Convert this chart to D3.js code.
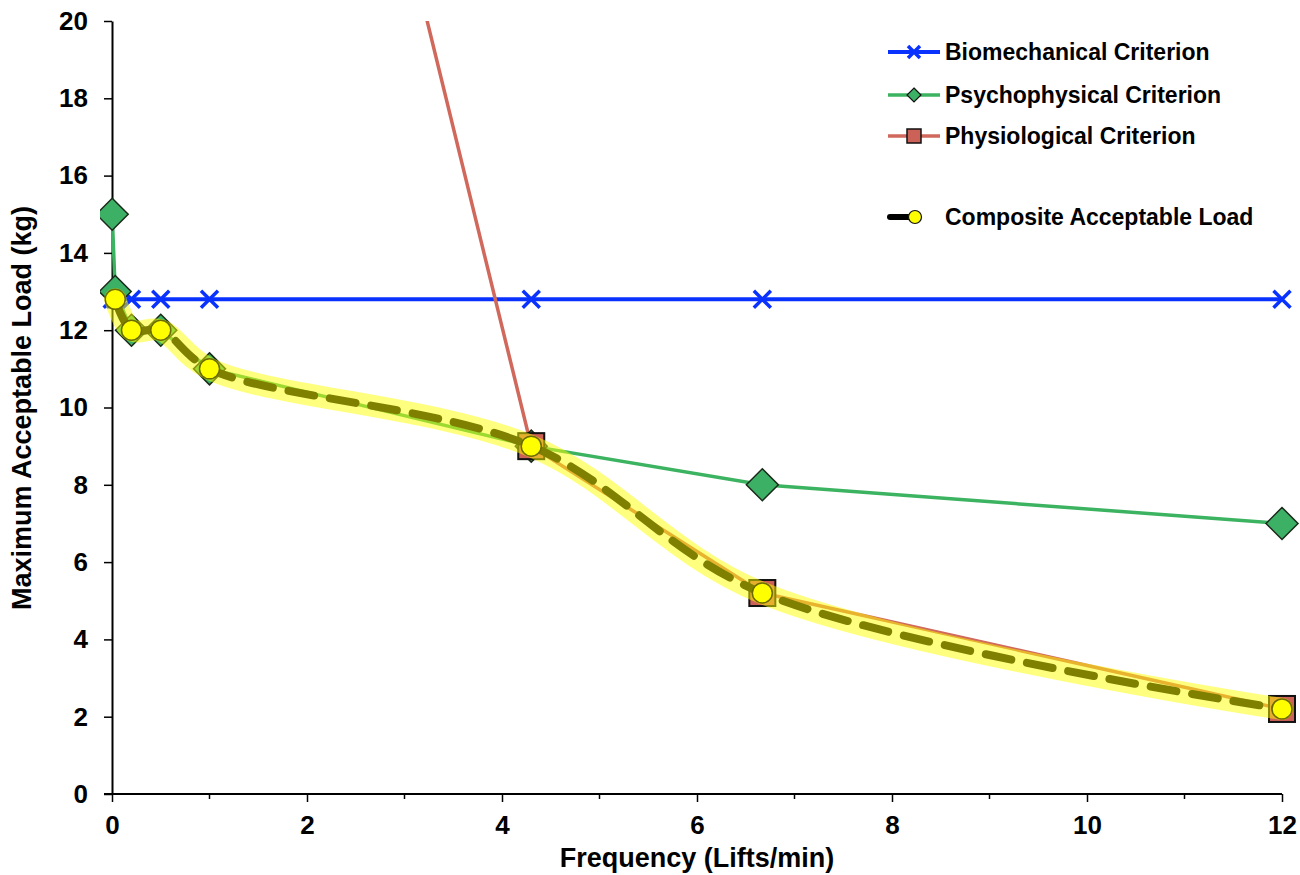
<!DOCTYPE html>
<html><head><meta charset="utf-8">
<script src="https://cdn.jsdelivr.net/npm/d3@7"></script>
<style>
html,body{margin:0;padding:0;background:#fff;}
svg{display:block;font-family:"Liberation Sans",Arial,sans-serif;font-weight:bold;}
</style></head>
<body><svg id="c" width="1300" height="875"></svg>
<script>
// Data
const freqs = [0.002, 0.033, 0.2, 0.5, 1, 4.3, 6.67, 12];
const biomechanical = [12.8, 12.8, 12.8, 12.8, 12.8, 12.8, 12.8, 12.8];
const psychophysical = [15, 13, 12, 12, 11, 9, 8, 7];
const physioFreqs = [1, 4.3, 6.67, 12];
const physiological = [43, 9, 5.2, 2.2];
const compFreqs = [0.033, 0.2, 0.5, 1, 4.3, 6.67, 12];
const composite = [12.8, 12, 12, 11, 9, 5.2, 2.2];
const xTicks = [0, 2, 4, 6, 8, 10, 12];
const xMinor = [1, 3, 5, 7, 9, 11];
const yTicks = [0, 2, 4, 6, 8, 10, 12, 14, 16, 18, 20];
const legendLabels = ["Biomechanical Criterion", "Psychophysical Criterion", "Physiological Criterion", "Composite Acceptable Load"];

const svg = d3.select("#c");
const x = d3.scaleLinear().domain([0, 12]).range([112, 1282]);
const y = d3.scaleLinear().domain([0, 20]).range([794, 21]);

const pts = (xs, ys) => xs.map((v, i) => [v, ys[i]]);

svg.append("defs").append("clipPath").attr("id", "clip")
  .append("rect").attr("x", 100).attr("y", 21).attr("width", 1200).attr("height", 790);

// Axes
const xAxis = svg.append("g").attr("transform", `translate(0,${y(0)})`)
  .call(d3.axisBottom(x).tickValues(xTicks).tickFormat(d3.format("d")).tickSize(8).tickSizeOuter(0).tickPadding(14));
xAxis.select(".domain").remove();
xAxis.append("line").attr("x1", 104).attr("x2", x(12)).attr("stroke", "#000").attr("stroke-width", 2);
xAxis.selectAll(".tick line").attr("stroke-width", 1.5);
xAxis.selectAll(".tick text").attr("font-size", 26).attr("font-weight", "bold").attr("fill", "#000").attr("font-family", "Liberation Sans, Arial");
xAxis.selectAll(".minor").data(xMinor).enter().append("line")
  .attr("x1", d => x(d)).attr("x2", d => x(d)).attr("y1", 0).attr("y2", 5).attr("stroke", "#000").attr("stroke-width", 1.5);

const yAxis = svg.append("g").attr("transform", `translate(${x(0)},0)`)
  .call(d3.axisLeft(y).tickValues(yTicks).tickFormat(d3.format("d")).tickSize(8).tickSizeOuter(0).tickPadding(16));
yAxis.select(".domain").attr("stroke-width", 2);
yAxis.selectAll(".tick line").attr("stroke-width", 1.5);
yAxis.selectAll(".tick text").attr("font-size", 26).attr("font-weight", "bold").attr("fill", "#000").attr("font-family", "Liberation Sans, Arial");

svg.append("text").attr("x", 697).attr("y", 867).attr("text-anchor", "middle").attr("font-size", 27).text("Frequency (Lifts/min)");
svg.append("text").attr("transform", "translate(31,408) rotate(-90)").attr("text-anchor", "middle").attr("font-size", 27).text("Maximum Acceptable Load (kg)");

const plot = svg.append("g").attr("clip-path", "url(#clip)");
const straight = d3.line().x(d => x(d[0])).y(d => y(d[1]));
const smooth = d3.line().x(d => x(d[0])).y(d => y(d[1])).curve(d3.curveCatmullRom.alpha(0.5));

// Series lines
const cBlue = "#0a32ff", cGreen = "#3cb360", cRed = "#d0685c";
plot.append("path").attr("d", straight(pts(freqs, biomechanical))).attr("fill", "none").attr("stroke", cBlue).attr("stroke-width", 4);
plot.append("path").attr("d", straight(pts(freqs, psychophysical))).attr("fill", "none").attr("stroke", cGreen).attr("stroke-width", 3.5);
plot.append("path").attr("d", straight(pts(physioFreqs, physiological))).attr("fill", "none").attr("stroke", cRed).attr("stroke-width", 3.5);

// Markers: X
const xm = plot.append("g");
pts(freqs, biomechanical).forEach(p => {
  const cx = x(p[0]), cy = y(p[1]), s = 8.5;
  xm.append("path").attr("d", `M${cx-s},${cy-s}L${cx+s},${cy+s}M${cx-s},${cy+s}L${cx+s},${cy-s}`)
    .attr("stroke", cBlue).attr("stroke-width", 3.5);
});
// Diamonds
pts(freqs, psychophysical).forEach(p => {
  const cx = x(p[0]), cy = y(p[1]), s = 16;
  plot.append("path").attr("d", `M${cx},${cy-s}L${cx+s},${cy}L${cx},${cy+s}L${cx-s},${cy}Z`)
    .attr("fill", "#3cb065").attr("stroke", "#1a2a1a").attr("stroke-width", 1.5);
});
// Squares
pts(physioFreqs, physiological).forEach(p => {
  const cx = x(p[0]), cy = y(p[1]), s = 13;
  plot.append("rect").attr("x", cx - s).attr("y", cy - s).attr("width", 2*s).attr("height", 2*s)
    .attr("fill", "#cc6158").attr("stroke", "#111").attr("stroke-width", 2);
});

// Composite
const cp = pts(compFreqs, composite);
plot.append("path").attr("d", smooth(cp)).attr("fill", "none").attr("stroke", "#000").attr("stroke-width", 8)
  .attr("stroke-dasharray", "26,16").attr("stroke-linecap", "round");
plot.append("path").attr("d", smooth(cp)).attr("fill", "none").attr("stroke", "#ffff00").attr("stroke-opacity", 0.5).attr("stroke-width", 22)
  .attr("stroke-linecap", "round").attr("stroke-linejoin", "round");
cp.forEach(p => {
  plot.append("circle").attr("cx", x(p[0])).attr("cy", y(p[1])).attr("r", 10)
    .attr("fill", "#ffff00").attr("stroke", "#6b6b00").attr("stroke-width", 1.5);
});

// Legend
const lg = svg.append("g");
const ly = [52, 95, 136, 217];
lg.append("line").attr("x1", 888).attr("x2", 940).attr("y1", ly[0]).attr("y2", ly[0]).attr("stroke", cBlue).attr("stroke-width", 4);
lg.append("path").attr("d", `M${914-6},${ly[0]-6}L${914+6},${ly[0]+6}M${914-6},${ly[0]+6}L${914+6},${ly[0]-6}`).attr("stroke", cBlue).attr("stroke-width", 3.5);
lg.append("line").attr("x1", 888).attr("x2", 940).attr("y1", ly[1]).attr("y2", ly[1]).attr("stroke", cGreen).attr("stroke-width", 3.5);
lg.append("path").attr("d", `M914,${ly[1]-7}L921,${ly[1]}L914,${ly[1]+7}L907,${ly[1]}Z`).attr("fill", "#3cb065").attr("stroke", "#111").attr("stroke-width", 1.2);
lg.append("line").attr("x1", 888).attr("x2", 940).attr("y1", ly[2]).attr("y2", ly[2]).attr("stroke", cRed).attr("stroke-width", 3.5);
lg.append("rect").attr("x", 907).attr("y", ly[2]-7).attr("width", 14).attr("height", 14).attr("fill", "#cc6158").attr("stroke", "#111").attr("stroke-width", 1.5);
lg.append("line").attr("x1", 890).attr("x2", 910).attr("y1", ly[3]).attr("y2", ly[3]).attr("stroke", "#000").attr("stroke-width", 6).attr("stroke-linecap", "round");
lg.append("circle").attr("cx", 915).attr("cy", ly[3]).attr("r", 6.5).attr("fill", "#ffff00").attr("stroke", "#111").attr("stroke-width", 1.2);
legendLabels.forEach((t, i) => {
  lg.append("text").attr("x", 945).attr("y", ly[i] + 8).attr("font-size", 23).text(t);
});
</script></body></html>
